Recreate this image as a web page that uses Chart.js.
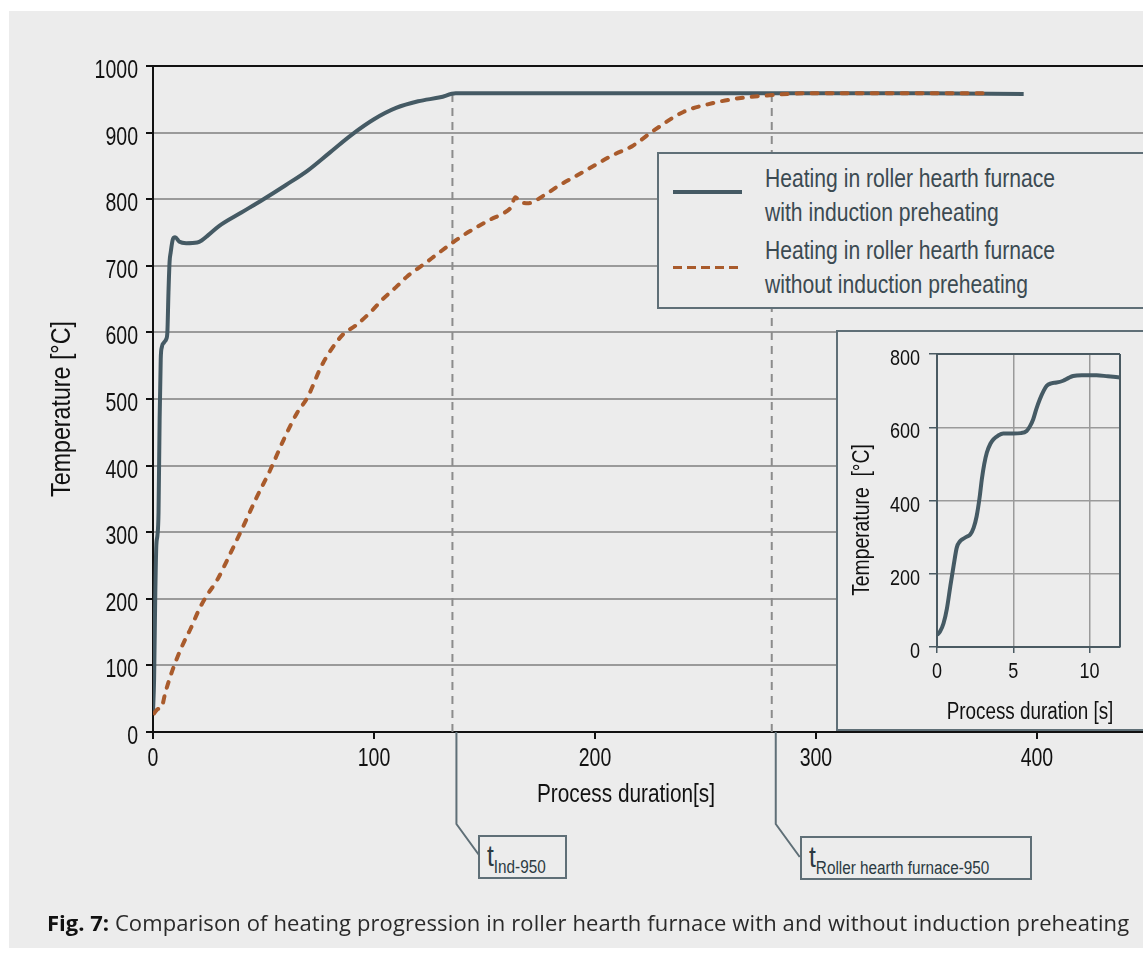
<!DOCTYPE html>
<html>
<head>
<meta charset="utf-8">
<script src="https://cdn.jsdelivr.net/npm/chart.js@4.4.0/dist/chart.umd.min.js"></script>
<style>
  html, body { margin: 0; padding: 0; width: 1143px; height: 958px; overflow: hidden; background: #fff; }
  #page { position: absolute; left: 9px; top: 11px; width: 1134px; height: 937px; background: #ececec; }
  #main { position: absolute; left: 0; top: 0; }
  .box { position: absolute; box-sizing: border-box; border: 2px solid #5f6f77; background: #ececec; }
  .narrow { font-family: 'Liberation Sans', Arial, sans-serif; transform-origin: 0 0; white-space: nowrap; }
  #legend { left: 657px; top: 152px; width: 500px; height: 157px; }
  #legend .sample { position: absolute; left: 14px; width: 69px; }
  #legend .txt { position: absolute; left: 106px; font-size: 25px; line-height: 34px; color: #3b4a52; transform: scaleX(0.845); }
  #inset { left: 836px; top: 330px; width: 320px; height: 401px; }
  #insetCanvas { position: absolute; left: 0; top: 0; }
  .callout { height: 44px; }
  .callout .lbl { position: absolute; left: 7px; top: 3px; color: #2b3a42; transform: scaleX(0.85); }
  .callout .t { font-size: 29px; }
  .callout sub { font-size: 18px; vertical-align: baseline; position: relative; top: 7px; }
  #caption { position: absolute; left: 47px; top: 907px; font-family: 'Open Sans', 'Noto Sans', sans-serif; font-size: 22px; letter-spacing: 0.11px; color: #2a2a2a; white-space: nowrap; }
  #caption b { color: #111; letter-spacing: 0; }
</style>
</head>
<body>
<div id="page"></div>
<canvas id="main" width="1143" height="958"></canvas>

<div id="legend" class="box">
  <div class="sample" style="top:36px;height:4px;background:#455a64;"></div>
  <div class="sample" style="top:112px;height:3px;background:repeating-linear-gradient(to right,#a95b2c 0 9px,transparent 9px 14px);"></div>
  <div class="txt narrow" style="top:7px;">Heating in roller hearth furnace<br>with induction preheating</div>
  <div class="txt narrow" style="top:79px;">Heating in roller hearth furnace<br>without induction preheating</div>
</div>

<div id="inset" class="box">
  <canvas id="insetCanvas" width="305" height="397"></canvas>
</div>

<div class="box callout" style="left:478px;top:835px;width:89px;">
  <div class="lbl narrow"><span class="t">t</span><sub>Ind-950</sub></div>
</div>
<div class="box callout" style="left:800px;top:836px;width:232px;">
  <div class="lbl narrow"><span class="t">t</span><sub>Roller hearth furnace-950</sub></div>
</div>

<div id="caption"><b>Fig. 7:</b> Comparison of heating progression in roller hearth furnace with and without induction preheating</div>

<script>
// ==============================
// Daten
// ==============================
const withTime = [0, 0.5, 1, 1.5, 2, 2.5, 3, 3.5, 4, 5, 6, 6.5, 7, 7.5, 8, 9, 10, 12, 15, 20,
  22, 25, 30, 40, 50, 60, 70, 80, 90, 100, 110, 120, 130, 137, 150, 200, 250, 300, 350, 394];
const withTemp = [30, 80, 200, 280, 295, 330, 470, 560, 578, 585, 590, 600, 660, 706, 720, 740, 743, 736, 734, 735,
  738, 746, 760, 780, 800, 821, 843, 870, 897, 920, 937, 947, 953, 959, 959, 959, 959, 959, 959, 958];

const withoutTime = [0.5, 2, 4, 5.5, 8, 11, 14, 17, 21, 24, 29, 35, 41, 47, 53, 59, 65, 70, 76, 80,
  86, 92, 98, 104, 110, 115, 122, 128, 134, 140, 147, 153, 158, 162, 164, 166, 170, 177, 184, 192,
  200, 208, 217, 227, 240, 253, 266, 279, 294, 320, 350, 378];
const withoutTemp = [28, 34, 38, 58, 85, 112, 135, 155, 185, 203, 228, 268, 310, 353, 393, 438, 478, 503, 548, 571,
  597, 611, 629, 650, 668, 684, 701, 716, 731, 745, 759, 770, 778, 788, 803, 796, 794, 806, 821, 836,
  851, 866, 880, 904, 931, 944, 952, 956, 959, 959, 959, 959];

// Markierungen t_Ind-950 und t_Roller-950
const markerTimes = [135.5, 280];
const markerTemp = 959;

// Ausschnitt (erste 12 s)
const insetTime = [0, 0.2, 0.43, 0.65, 0.87, 1.1, 1.3, 1.5, 1.63, 1.9, 2.18, 2.4, 2.6, 2.8, 2.94, 3.1, 3.27, 3.5, 3.7, 4.0,
  4.35, 5.0, 5.5, 5.88, 6.1, 6.31, 6.5, 6.75, 7.0, 7.19, 7.5, 7.84, 8.27, 8.6, 8.93, 9.5, 10.46, 11.2, 12];
const insetTemp = [33, 42, 65, 105, 165, 225, 272, 288, 293, 300, 307, 325, 357, 410, 458, 500, 531, 555, 567, 577,
  583, 583, 584, 590, 603, 622, 648, 677, 700, 713, 720, 722, 727, 734, 740, 742, 742, 739, 736];

const SANS = "'Liberation Sans', Arial, sans-serif";
const SLATE = "#455a64";
const ORANGE = "#a95b2c";

const toXY = (xs, ys) => xs.map((x, i) => ({ x, y: ys[i] }));

// schmale Schrift: normale Schrift horizontal gestaucht
function drawNarrow(ctx, text, x, y, o) {
  ctx.save();
  ctx.font = o.size + "px " + SANS;
  ctx.fillStyle = o.color || "#111";
  ctx.textAlign = o.align || "center";
  ctx.textBaseline = o.baseline || "middle";
  ctx.translate(x, y);
  if (o.rotate) ctx.rotate(-Math.PI / 2);
  ctx.scale(o.sx || 0.84, 1);
  ctx.fillText(text, 0, 0);
  ctx.restore();
}

// ==============================
// Plugins
// ==============================
const freeText = {
  id: "freeText",
  afterDraw(chart, args, opts) {
    (opts.items || []).forEach((it) => drawNarrow(chart.ctx, it.text, it.x, it.y, it));
  },
};

const narrowTicks = {
  id: "narrowTicks",
  afterDraw(chart, args, opts) {
    (opts.axes || []).forEach((ax) => {
      const s = chart.scales[ax.id];
      s.ticks.forEach((tk) => {
        const p = s.getPixelForValue(tk.value);
        if (s.isHorizontal()) {
          drawNarrow(chart.ctx, String(tk.value), p, s.top + ax.offset, { size: ax.size, sx: ax.sx, baseline: "alphabetic" });
        } else {
          drawNarrow(chart.ctx, String(tk.value), s.right - ax.offset, p + ax.shift, { size: ax.size, sx: ax.sx, align: "right", baseline: "alphabetic" });
        }
      });
    });
  },
};

const frame = {
  id: "frame",
  afterDraw(chart, args, opts) {
    const { ctx, chartArea: a } = chart;
    ctx.save();
    ctx.strokeStyle = opts.color;
    ctx.lineWidth = 2;
    ctx.beginPath();
    if (opts.top) { ctx.moveTo(a.left, a.top); ctx.lineTo(a.right, a.top); }
    if (opts.right) { ctx.moveTo(a.right, a.top); ctx.lineTo(a.right, a.bottom); }
    ctx.stroke();
    ctx.restore();
  },
};

const callouts = {
  id: "callouts",
  afterDraw(chart, args, opts) {
    if (!opts.times) return;
    const { ctx, chartArea: a } = chart;
    const xs = chart.scales.x;
    ctx.save();
    ctx.strokeStyle = "#5f6f77";
    ctx.lineWidth = 2;
    opts.times.forEach((t) => {
      const px = xs.getPixelForValue(t) + 4;
      ctx.beginPath();
      ctx.moveTo(px, a.bottom);
      ctx.lineTo(px, a.bottom + 92);
      ctx.lineTo(px + 24, a.bottom + 125);
      ctx.stroke();
    });
    ctx.restore();
  },
};

// ==============================
// Hauptdiagramm
// ==============================
new Chart(document.getElementById("main"), {
  type: "line",
  data: {
    datasets: [
      {
        label: "Heating in roller hearth furnace without induction preheating",
        data: toXY(withoutTime, withoutTemp),
        borderColor: ORANGE,
        borderWidth: 4,
        borderDash: [6, 9],
        borderCapStyle: "round",
        pointRadius: 0,
        cubicInterpolationMode: "monotone",
        order: 0,
      },
      {
        label: "Heating in roller hearth furnace with induction preheating",
        data: toXY(withTime, withTemp),
        borderColor: SLATE,
        borderWidth: 4,
        pointRadius: 0,
        cubicInterpolationMode: "monotone",
        order: 1,
      },
      ...markerTimes.map((t) => ({
        label: "marker",
        data: [{ x: t, y: 0 }, { x: t, y: markerTemp }],
        borderColor: "#8c8c8c",
        borderWidth: 2,
        borderDash: [8, 6],
        pointRadius: 0,
        order: 2,
      })),
    ],
  },
  options: {
    responsive: false,
    animation: false,
    layout: { padding: { top: 66, left: 0, right: 0, bottom: 0 } },
    plugins: {
      legend: { display: false },
      tooltip: { enabled: false },
      freeText: {
        items: [
          { text: "Temperature [°C]", x: 63, y: 409, rotate: true, size: 27, sx: 0.86 },
          { text: "Process duration[s]", x: 626, y: 795, size: 26, sx: 0.8 },
        ],
      },
      narrowTicks: {
        axes: [
          { id: "x", offset: 34, size: 26, sx: 0.75 },
          { id: "y", offset: 15, shift: 12, size: 26, sx: 0.75 },
        ],
      },
      frame: { color: "#111", top: true },
      callouts: { times: markerTimes },
    },
    scales: {
      x: {
        type: "linear",
        min: 0,
        max: 448,
        ticks: { stepSize: 100, includeBounds: false, maxRotation: 0, color: "transparent" },
        grid: { drawOnChartArea: false, tickLength: 7, tickColor: "#111", lineWidth: 2 },
        border: { color: "#111", width: 2 },
        afterFit: (s) => { s.height = 226; },
      },
      y: {
        min: 0,
        max: 1000,
        ticks: { stepSize: 100, color: "transparent" },
        grid: { color: "#9a9a9a", lineWidth: 2, tickLength: 7, tickColor: "#111" },
        border: { color: "#111", width: 2 },
        afterFit: (s) => { s.width = 153; },
      },
    },
  },
  plugins: [freeText, narrowTicks, frame, callouts],
});

// ==============================
// Ausschnitt 0-12 s
// ==============================
new Chart(document.getElementById("insetCanvas"), {
  type: "line",
  data: {
    datasets: [
      {
        label: "inset",
        data: toXY(insetTime, insetTemp),
        borderColor: SLATE,
        borderWidth: 4,
        pointRadius: 0,
        cubicInterpolationMode: "monotone",
      },
    ],
  },
  options: {
    responsive: false,
    animation: false,
    layout: { padding: { top: 22, left: 0, right: 23, bottom: 0 } },
    plugins: {
      legend: { display: false },
      tooltip: { enabled: false },
      freeText: {
        items: [
          { text: "Temperature  [°C]", x: 25, y: 188, rotate: true, size: 23, sx: 0.84 },
          { text: "Process duration [s]", x: 192, y: 381, size: 23, sx: 0.82 },
        ],
      },
      narrowTicks: {
        axes: [
          { id: "x", offset: 31, size: 22, sx: 0.82 },
          { id: "y", offset: 17, shift: 11, size: 22, sx: 0.82 },
        ],
      },
      frame: { color: "#4a5a62", top: true, right: true },
    },
    scales: {
      x: {
        type: "linear",
        min: 0,
        max: 12,
        ticks: { stepSize: 5, includeBounds: false, maxRotation: 0, color: "transparent" },
        grid: { color: "#9a9a9a", lineWidth: 1.5, tickLength: 6, tickColor: "#4a5a62" },
        border: { color: "#4a5a62", width: 2 },
        afterFit: (s) => { s.height = 82; },
      },
      y: {
        min: 0,
        max: 800,
        ticks: { stepSize: 200, color: "transparent" },
        grid: { color: "#9a9a9a", lineWidth: 1.5, tickLength: 8, tickColor: "#4a5a62" },
        border: { color: "#4a5a62", width: 2 },
        afterFit: (s) => { s.width = 99; },
      },
    },
  },
  plugins: [freeText, narrowTicks, frame],
});
</script>
</body>
</html>
